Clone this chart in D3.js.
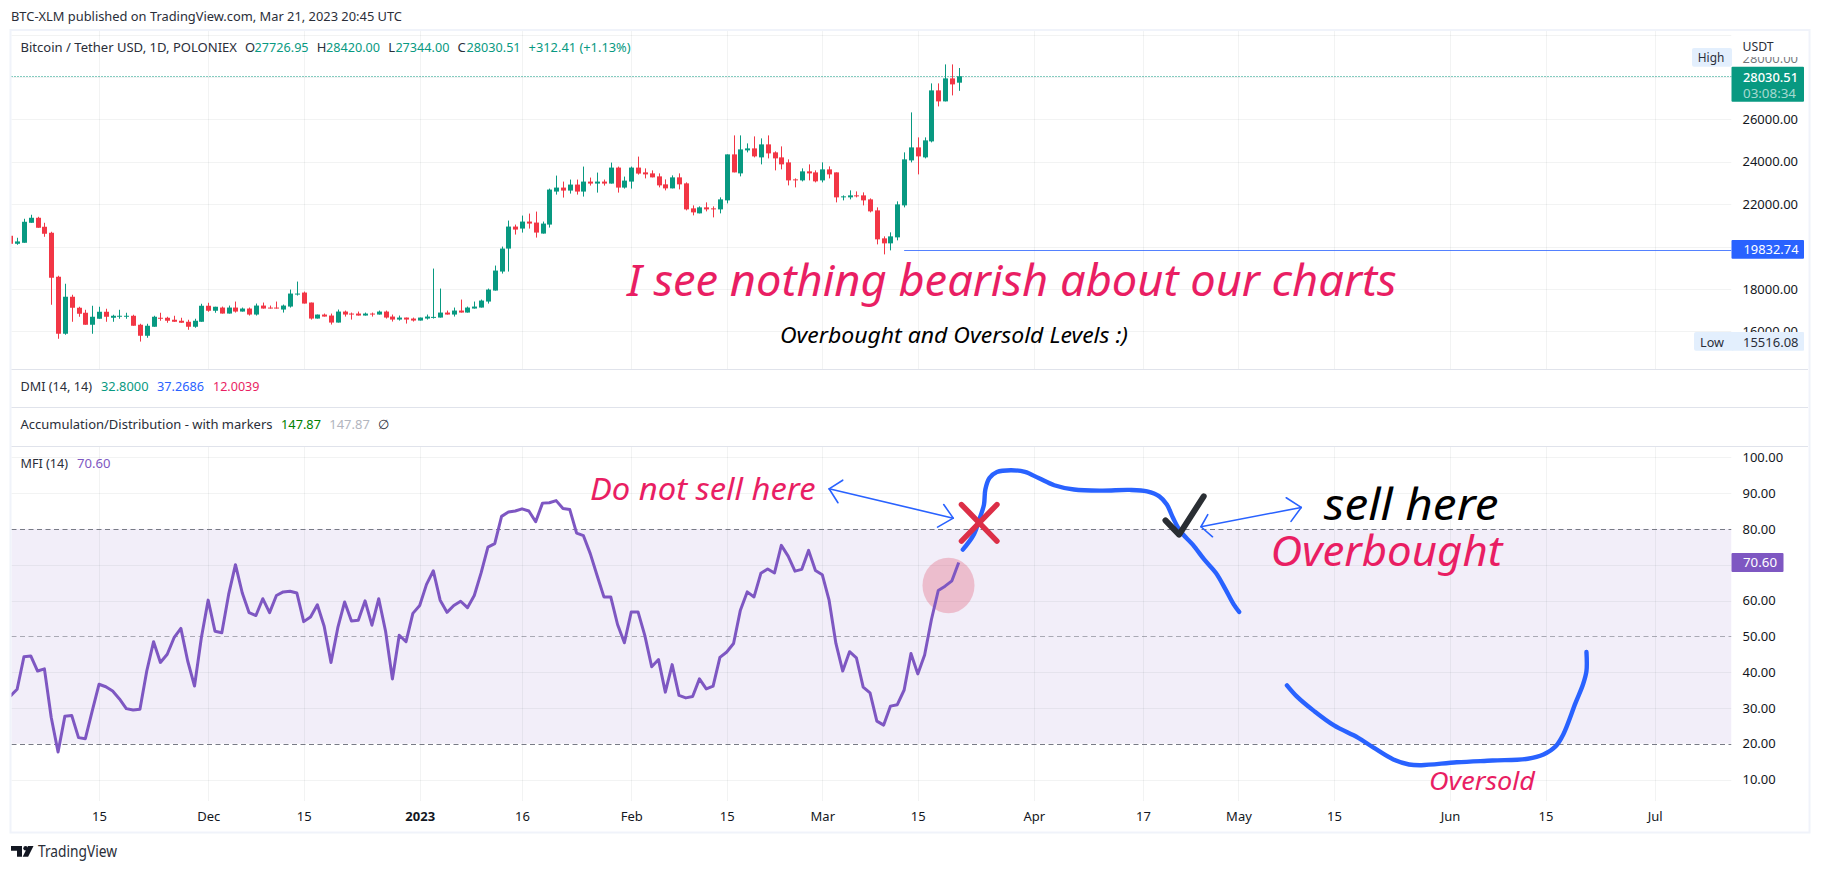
<!DOCTYPE html>
<html>
<head>
<meta charset="utf-8">
<title>BTC / USDT with MFI</title>
<script src="https://d3js.org/d3.v7.min.js"></script>
<style>
    body { margin: 0; background: #fff; }
    svg { display: block; }
    text { font-family: "Noto Sans", sans-serif; }
</style>
</head>
<body>
<svg id="chart" width="1822" height="871"></svg>
<script>
// daily candles, first one is 2 Nov 2022
var firstDay = "2022-11-02";
var open = [
    20506,20129,20176,21119,21355,20931,20648,18573,15885,17630,
    17111,16875,16309,16592,16922,16639,16686,16686,16733,16309,
    15790,16215,16639,16639,16545,16498,16450,16215,16450,17205,
    16969,17120,16837,17120,16931,17073,16790,17214,17120,17120,
    17026,17167,17733,17827,17356,16601,16790,16743,16412,16931,
    16837,16837,16743,16837,16790,16931,16695,16554,16648,16601,
    16507,16601,16633,16648,16884,16790,16979,16884,17073,17120,
    17403,17922,18818,19902,20940,20846,21176,21129,20610,21034,
    22591,22779,22638,22921,22591,23062,22968,23062,22968,23722,
    22779,23062,23722,23496,23449,23308,22931,22742,23261,22978,
    21799,21563,21846,21799,21751,22176,24345,23449,24534,24628,
    24204,24817,24440,24204,23968,23166,23119,23544,23496,23119,
    23638,23496,22318,22318,22412,22412,22223,21704,20384,20148,
    20431,21940,24062,24675,24204,24958,27364,26845,27930,27726.95];
var close = [
    20129,20239,21166,21355,20884,20601,18526,15885,17630,17111,
    16828,16309,16686,16922,16686,16733,16733,16733,16262,15790,
    16262,16686,16592,16498,16450,16403,16215,16498,17205,16969,
    17158,16837,17120,16931,17073,16790,17214,17073,17073,17073,
    17214,17780,17780,17309,16601,16790,16695,16412,16931,16790,
    16790,16743,16837,16790,16931,16648,16554,16648,16554,16507,
    16648,16695,16680,16884,16790,16979,16884,17120,17167,17450,
    17969,18865,19902,20940,20798,21176,21081,20657,21081,22685,
    22779,22638,22921,22591,23062,22968,23062,22968,23722,22779,
    23109,23722,23440,23402,23261,22883,22742,23261,22931,21751,
    21610,21846,21751,21751,22223,24345,23496,24581,24628,24251,
    24817,24392,24157,23874,23119,23119,23544,23449,23072,23638,
    23402,22318,22365,22412,22365,22176,21657,20337,20148,20478,
    21987,24110,24675,24251,25006,27364,26845,27930,27647,28030.51];
var high = [
    20506,20412,21308,21497,21402,21119,20695,18620,18243,17724,
    17158,17016,17205,17158,17064,16781,17016,16875,16781,16356,
    16356,16733,16875,16686,16733,16639,16545,16592,17299,17346,
    17158,17167,17214,17403,17120,17120,17309,17356,17214,17403,
    17261,17969,18346,17874,17356,16790,16837,16837,17026,16978,
    16884,16931,16884,16884,16978,16978,16790,16743,16648,16648,
    16648,16790,18959,18016,16979,17120,17497,17167,17403,17497,
    18016,19101,19997,21223,21034,21459,21553,21647,21176,22732,
    23345,23062,23157,23157,23770,23251,23487,23157,23958,23770,
    23298,23770,24241,23685,23591,23449,23166,23355,23449,23025,
    21940,21893,22082,21893,22318,24345,25241,25241,24864,25194,
    25100,25241,24487,24723,24110,23213,23685,23874,23591,23968,
    23779,23496,22412,22648,22600,22553,22270,21846,20478,20667,
    22129,24440,26326,25147,25147,27694,27694,28590,28590,28420];
var low = [
    20129,20082,20176,21119,20884,20459,17252,15649,15837,16450,
    16686,16309,15885,16592,16450,16450,16592,16592,16262,15516,
    15696,16215,16498,16403,16450,16403,16073,16167,16450,16922,
    16875,16837,16837,16884,16931,16743,16743,17073,17073,17073,
    16884,17120,17686,17309,16554,16601,16695,16318,16412,16695,
    16554,16743,16743,16695,16790,16601,16460,16507,16365,16460,
    16507,16554,16601,16648,16790,16696,16884,16884,17073,17120,
    17309,17922,18723,18818,20563,20657,20846,20421,20610,20893,
    22449,22308,22496,22449,22355,22874,22543,22874,22968,22543,
    22732,22732,23392,23213,23261,22789,22648,22742,22695,21704,
    21469,21563,21657,21374,21563,22034,23496,23308,24440,24204,
    23874,24157,23591,23638,22883,22789,23072,23119,23025,23025,
    23213,22082,22176,22223,22318,21940,21610,20101,19629,19818,
    20290,21846,23968,23402,24157,24911,26609,26845,27128,27344];
var mfi = [
    33.3,35.2,44.3,44.5,40.3,40.9,27.3,17.7,27.7,27.9,
    21.7,21.4,29.1,36.6,35.9,34.7,32.5,29.8,29.4,29.6,
    40.3,48.5,42.7,45.0,49.6,52.2,43.1,36.1,49.6,60.1,
    51.4,51.0,61.7,70.0,62.1,56.6,55.8,60.5,56.6,61.4,
    62.4,62.6,62.1,54.1,55.4,58.8,52.8,42.7,52.4,59.6,
    54.3,54.5,59.9,53.1,60.5,51.4,38.1,50.3,48.5,56.4,
    58.6,64.5,68.3,60.1,56.7,58.6,59.8,58.0,61.4,67.7,
    74.9,75.9,83.5,84.7,85.0,85.6,85.0,82.0,87.2,87.3,
    87.9,85.7,85.4,78.8,78.1,73.1,67.0,61.0,61.0,53.3,
    48.2,56.8,56.8,50.2,41.5,43.5,34.4,42.1,33.5,32.8,
    33.2,38.1,35.3,36.1,44.1,45.6,48.0,57.3,62.4,61.0,
    67.6,68.8,67.7,75.4,72.4,68.2,68.7,74.0,68.4,67.2,
    60.1,48.0,40.3,45.7,44.0,35.8,34.2,26.3,25.2,30.5,
    30.9,35.0,45.2,39.5,44.8,54.7,62.8,64.0,65.5,70.6];

var dateTicks = ["2022-11-15","2022-12-01","2022-12-15","2023-01-01","2023-01-16","2023-02-01","2023-02-15","2023-03-01","2023-03-15","2023-04-01","2023-04-17","2023-05-01","2023-05-15","2023-06-01","2023-06-15","2023-07-01"];
var dateLabels = ["15","Dec","15","2023","16","Feb","15","Mar","15","Apr","17","May","15","Jun","15","Jul"];
var priceTicks = [26000,24000,22000,20000,18000,16000];
var priceGrid = [30000,28000,26000,24000,22000,20000,18000,16000];
var mfiTicks = [100,90,80,70,60,50,40,30,20,10];

var lastPrice = 28030.51;
var linePrice = 19832.74;
var lineFromDay = 131;
var bandTop = 80, bandMid = 50, bandBottom = 20;

// hand drawn stuff, as [day since firstDay, MFI value]
var sketchUp = [[139.6,74.2],[141.2,78.4],[142.1,83.1],[142.7,86.8],[142.9,91.0],[143.5,94.2],[144.6,95.9],[146.7,96.4],[148.7,95.9],[150.7,94.2],[153.0,92.2],[155.9,91.0],[160.0,90.7],[164.0,90.9],[166.6,90.5],[168.4,89.1],[169.5,86.8],[170.4,83.1],[171.5,79.3],[173.3,75.6],[175.0,71.4],[176.7,67.7],[178.1,63.1],[179.3,58.9],[180.1,56.8]];
var sketchDown = [[187.1,36.3],[188.5,33.3],[191.1,29.1],[194.0,25.1],[197.5,21.7],[199.8,18.9],[202.7,15.6],[205.0,14.2],[206.8,14.0],[212.0,14.8],[217.2,15.3],[222.4,15.8],[224.7,17.0],[226.5,19.3],[227.6,22.6],[229.4,31.4],[230.5,36.6],[231.0,40.3],[231.0,45.6]];
var crossA = [[139.4,86.8],[144.6,76.6]];
var crossB = [[144.6,86.8],[139.4,76.6]];
var checkMark = [[169.3,82.4],[171.3,78.4],[174.9,89.1]];
var arrowNoSell = [[120.0,91.2],[138.2,83.0]];
var arrowNoSellHeadL = [[122.0,93.6],[120.0,91.2],[121.3,87.3]];
var arrowNoSellHeadR = [[136.8,86.8],[138.2,83.0],[135.9,80.5]];
var arrowSell = [[174.5,80.6],[189.2,86.0]];
var arrowSellHeadL = [[175.5,84.0],[174.5,80.6],[176.2,77.8]];
var arrowSellHeadR = [[187.0,88.7],[189.2,86.0],[187.7,82.1]];
var circleSpot = [137.5,64.2];

var GREEN = "#089981", RED = "#f23645", BLUE = "#2962ff", PURPLE = "#7e57c2", PINK = "#e91e63", INK = "#131722";
var left = 11.5, right = 1731.5;

var svg = d3.select("#chart");
var parse = d3.utcParse("%Y-%m-%d");
var start = parse(firstDay);
function dayDate(n) { return new Date(start.getTime() + n * 864e5); }

var x = d3.scaleUtc().domain([parse("2022-11-15"), parse("2023-07-01")]).range([99, 1654.7]);
var yPrice = d3.scaleLinear().domain([16000, 26000]).range([331.3, 119.3]);
var yMfi = d3.scaleLinear().domain([10, 100]).range([779.5, 457.3]);

function px(p) { return [x(dayDate(p[0])), yMfi(p[1])]; }

// frame and pane borders
svg.append("rect").attr("width", 1822).attr("height", 871).attr("fill", "#fff");
svg.append("rect").attr("x", 10.5).attr("y", 30).attr("width", 1799).attr("height", 802.5)
    .attr("fill", "none").attr("stroke", "#f0f3fa").attr("stroke-width", 2);
[369.5, 407.5, 446.5].forEach(function(y) {
    svg.append("line").attr("x1", left).attr("x2", 1808).attr("y1", y).attr("y2", y)
        .attr("stroke", "#e0e3eb").attr("stroke-width", 1);
});

svg.append("defs").append("clipPath").attr("id", "plot").append("rect")
    .attr("x", left).attr("y", 31).attr("width", right - left).attr("height", 770);

var plot = svg.append("g").attr("clip-path", "url(#plot)");

// MFI background band goes under the grid
plot.append("rect").attr("x", left).attr("width", right - left)
    .attr("y", yMfi(bandTop)).attr("height", yMfi(bandBottom) - yMfi(bandTop))
    .attr("fill", PURPLE).attr("fill-opacity", 0.1);

var GRID = "rgba(42,46,57,0.06)";
dateTicks.forEach(function(d) {
    var xp = Math.round(x(parse(d))) + 0.5;
    plot.append("line").attr("x1", xp).attr("x2", xp).attr("y1", 31).attr("y2", 369).attr("stroke", GRID);
    plot.append("line").attr("x1", xp).attr("x2", xp).attr("y1", 447).attr("y2", 801).attr("stroke", GRID);
});
priceGrid.forEach(function(p) {
    var yp = Math.round(yPrice(p)) + 0.5;
    plot.append("line").attr("x1", left).attr("x2", right).attr("y1", yp).attr("y2", yp).attr("stroke", GRID);
});
mfiTicks.forEach(function(v) {
    if (v == bandTop || v == bandMid || v == bandBottom) return;
    var yp = Math.round(yMfi(v)) + 0.5;
    plot.append("line").attr("x1", left).attr("x2", right).attr("y1", yp).attr("y2", yp).attr("stroke", GRID);
});

// MFI level lines
[[bandTop, 1], [bandMid, 0.6], [bandBottom, 1]].forEach(function(l) {
    var yp = Math.round(yMfi(l[0])) + 0.5;
    plot.append("line").attr("x1", left).attr("x2", right).attr("y1", yp).attr("y2", yp)
        .attr("stroke", "#787b86").attr("stroke-opacity", l[1]).attr("stroke-dasharray", "5 3.5");
});

// price lines, snapped so they stay one pixel wide
var lastY = Math.round(yPrice(lastPrice)) + 0.5;
var lineY = Math.round(yPrice(linePrice)) + 0.5;
plot.append("line").attr("x1", left).attr("x2", right).attr("y1", lastY).attr("y2", lastY)
    .attr("stroke", GREEN).attr("stroke-dasharray", "1 2");
plot.append("line").attr("x1", x(dayDate(lineFromDay))).attr("x2", right).attr("y1", lineY).attr("y2", lineY)
    .attr("stroke", BLUE).attr("stroke-opacity", 0.8);

// candles
var candles = plot.append("g").selectAll("g").data(d3.range(open.length)).enter().append("g")
    .attr("fill", function(i) { return close[i] >= open[i] ? GREEN : RED; });
candles.append("rect")
    .attr("x", function(i) { return Math.round(x(dayDate(i))); })
    .attr("width", 1)
    .attr("y", function(i) { return yPrice(high[i]); })
    .attr("height", function(i) { return yPrice(low[i]) - yPrice(high[i]); });
candles.append("rect")
    .attr("x", function(i) { return Math.round(x(dayDate(i))) - 2; })
    .attr("width", 5)
    .attr("y", function(i) { return yPrice(Math.max(open[i], close[i])); })
    .attr("height", function(i) { return Math.max(1, Math.abs(yPrice(open[i]) - yPrice(close[i]))); });

// spot circle, then the MFI line
var spot = px(circleSpot);
plot.append("ellipse").attr("cx", spot[0]).attr("cy", spot[1]).attr("rx", 26).attr("ry", 27.8)
    .attr("fill", "#dc3c5a").attr("fill-opacity", 0.27);
plot.append("path")
    .attr("d", d3.line().x(function(d, i) { return x(dayDate(i)); }).y(function(d) { return yMfi(d); })(mfi))
    .attr("fill", "none").attr("stroke", PURPLE).attr("stroke-width", 3).attr("stroke-linejoin", "round");

// drawings
var smooth = d3.line().curve(d3.curveCatmullRom.alpha(0.5));
var straight = d3.line();
function drawLine(gen, pts, color, w) {
    return svg.append("path").attr("d", gen(pts.map(px))).attr("fill", "none")
        .attr("stroke", color).attr("stroke-width", w)
        .attr("stroke-linecap", "round").attr("stroke-linejoin", "round");
}
drawLine(smooth, sketchUp, BLUE, 4.4);
drawLine(smooth, sketchDown, BLUE, 4.4);
drawLine(straight, arrowNoSell, BLUE, 1.6);
drawLine(straight, arrowNoSellHeadL, BLUE, 1.6);
drawLine(straight, arrowNoSellHeadR, BLUE, 1.6);
drawLine(straight, arrowSell, BLUE, 1.6);
drawLine(straight, arrowSellHeadL, BLUE, 1.6);
drawLine(straight, arrowSellHeadR, BLUE, 1.6);
drawLine(straight, crossA, "#dc2f47", 5.5);
drawLine(straight, crossB, "#dc2f47", 5.5);
drawLine(straight, checkMark, "#2a2e33", 6);

// text helper, the width keeps it on the same span as the original font
function label(xp, yp, str, opts) {
    opts = opts || {};
    var t = svg.append("text").attr("x", xp).attr("y", yp).text(str)
        .attr("font-size", opts.size || 13).attr("fill", opts.fill || INK);
    if (opts.width) t.attr("textLength", opts.width).attr("lengthAdjust", "spacingAndGlyphs");
    if (opts.italic) t.attr("font-style", "italic");
    if (opts.weight) t.attr("font-weight", opts.weight);
    if (opts.opacity) t.attr("fill-opacity", opts.opacity);
    return t;
}

// header and pane legends
label(11, 20.5, "BTC-XLM published on TradingView.com, Mar 21, 2023 20:45 UTC", {width: 391, fill: "#2a2e39"});
label(20.5, 51.5, "Bitcoin / Tether USD, 1D, POLONIEX", {width: 216.5, fill: "#2a2e39"});
label(245, 51.5, "O", {fill: "#2a2e39"});
label(254.6, 51.5, "27726.95", {fill: GREEN, width: 54});
label(316.7, 51.5, "H", {fill: "#2a2e39"});
label(326, 51.5, "28420.00", {fill: GREEN, width: 54});
label(388.3, 51.5, "L", {fill: "#2a2e39"});
label(395.4, 51.5, "27344.00", {fill: GREEN, width: 54});
label(457.5, 51.5, "C", {fill: "#2a2e39"});
label(466.6, 51.5, "28030.51", {fill: GREEN, width: 54});
label(528.6, 51.5, "+312.41 (+1.13%)", {fill: GREEN, width: 102});

label(20.5, 390.5, "DMI (14, 14)", {width: 71.5, fill: "#2a2e39"});
label(101, 390.5, "32.8000", {fill: GREEN, width: 47.5});
label(157, 390.5, "37.2686", {fill: BLUE, width: 47});
label(213, 390.5, "12.0039", {fill: PINK, width: 46.5});

label(20.5, 429, "Accumulation/Distribution - with markers", {width: 252, fill: "#2a2e39"});
label(281, 429, "147.87", {fill: "#008000", width: 40});
label(329.3, 429, "147.87", {fill: "#b2b5be", width: 40.5});
label(377.6, 429, "∅", {fill: "#2a2e39"});

label(20.5, 468, "MFI (14)", {width: 47.5, fill: "#2a2e39"});
label(77, 468, "70.60", {fill: PURPLE, width: 33.5});

// annotations
label(627, 296, "I see nothing bearish about our charts", {size: 43, fill: PINK, italic: true, width: 769.5});
label(780, 342.5, "Overbought and Oversold Levels :)", {size: 21, fill: "#000", italic: true, width: 348});
label(590, 500, "Do not sell here", {size: 30, fill: PINK, italic: true, width: 225.5});
label(1323.8, 519.5, "sell here", {size: 44, fill: "#000", italic: true, width: 174.7});
label(1270.4, 566, "Overbought", {size: 42, fill: PINK, italic: true, width: 232});
label(1429, 790, "Oversold", {size: 25, fill: PINK, italic: true, width: 106});

// axes
function styleAxis(g) {
    g.select(".domain").remove();
    g.selectAll("line").remove();
    g.attr("font-family", '"Noto Sans", sans-serif').attr("font-size", 13);
    g.selectAll("text").attr("fill", INK);
}
svg.append("g").attr("transform", "translate(1742.5,0)")
    .call(d3.axisRight(yPrice).tickValues(priceTicks).tickSize(0).tickPadding(0).tickFormat(d3.format(".2f")))
    .call(styleAxis);
svg.append("g").attr("transform", "translate(1742.5,0)")
    .call(d3.axisRight(yMfi).tickValues(mfiTicks).tickSize(0).tickPadding(0).tickFormat(d3.format(".2f")))
    .call(styleAxis);
svg.append("g").attr("transform", "translate(0,802)")
    .call(d3.axisBottom(x).tickValues(dateTicks.map(parse)).tickSize(0).tickPadding(10)
        .tickFormat(function(d, i) { return dateLabels[i]; }))
    .call(styleAxis)
    .selectAll("text").attr("font-weight", function(d, i) { return dateLabels[i] == "2023" ? 700 : 400; });

// the label under the High tag, only its lower half shows
label(1742.5, 63, "28000.00", {fill: INK, opacity: 0.6});
svg.append("rect").attr("x", 1732).attr("y", 48).attr("width", 72).attr("height", 9).attr("fill", "#fff");
label(1742.5, 51, "USDT", {width: 31, fill: "#2a2e39"});
svg.append("rect").attr("x", 1692).attr("y", 48).attr("width", 40).attr("height", 18.7).attr("rx", 2).attr("fill", "#e3effd");
label(1697.8, 61.5, "High", {width: 26.5, fill: "#2a2e39"});

// tags on the right side
function tag(yTop, h, w, color) {
    svg.append("rect").attr("x", 1731.5).attr("y", yTop).attr("width", w).attr("height", h).attr("rx", 1).attr("fill", color);
}
tag(66.7, 35, 72.5, GREEN);
label(1743, 81.5, "28030.51", {fill: "#fff", width: 55, weight: 500});
label(1743, 98, "03:08:34", {fill: "#fff", opacity: 0.65, width: 53});

tag(240, 18.7, 72.5, BLUE);
label(1743.5, 254, "19832.74", {fill: "#fff", width: 55});

tag(332, 18.7, 72.5, "#e3effd");
svg.append("rect").attr("x", 1694).attr("y", 332).attr("width", 40).attr("height", 18.7).attr("rx", 2).attr("fill", "#e3effd");
label(1700, 346.5, "Low", {width: 24, fill: "#2a2e39"});
label(1743, 346.5, "15516.08", {fill: "#2a2e39", width: 55.5});

tag(553, 19, 52, PURPLE);
label(1743, 567, "70.60", {fill: "#fff", width: 34});

// footer logo
var logo = svg.append("g").attr("fill", INK);
logo.append("path").attr("d", "M11 846h11v10.7h-5v-6h-6z");
logo.append("circle").attr("cx", 25.6).attr("cy", 848.3).attr("r", 2.3);
logo.append("path").attr("d", "M33.5 846l-5.4 10.7h-5.4l5.4-10.7z");
label(38, 856.5, "TradingView", {size: 16, width: 79, fill: "#2a2e39"});
</script>
</body>
</html>
